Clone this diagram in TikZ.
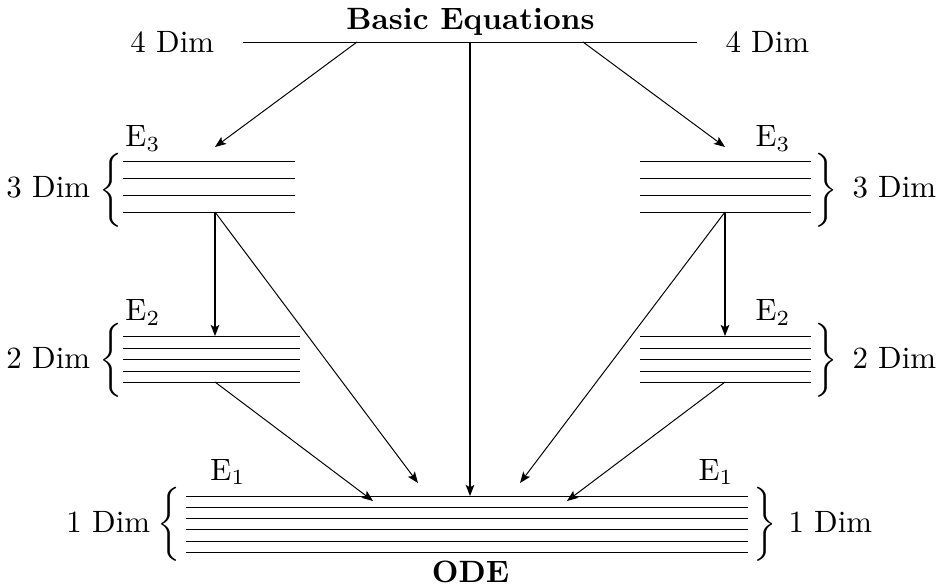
\documentclass[tikz,border=0pt]{standalone}
\usetikzlibrary{arrows.meta}
\begin{document}
\begin{tikzpicture}[x=0.324pt,y=-0.324pt,line width=0.32pt,
  arr/.style={-{Stealth[length=3.6pt,width=2.8pt,inset=0.8pt]}},
  txt/.style={inner sep=0pt,anchor=base west},
  ctxt/.style={inner sep=0pt,anchor=base},
  brc/.style={inner sep=0pt,anchor=center}]
\useasboundingbox (0,0) rectangle (942,584);

% top
\node[ctxt,font=\bfseries] (basic) at (470.5,30) {Basic Equations};
\node[txt] (d4l) at (130,53) {4 Dim};
\node[txt] (d4r) at (725,53) {4 Dim};
\draw (243,42) -- (697,42);
\coordinate (tl) at (357,42);
\coordinate (tc) at (470,42);
\coordinate (tr) at (583,42);

% 3 Dim groups
\foreach \y in {161,178,195,212} {
  \draw (123,\y) -- (295,\y);
  \draw (640,\y) -- (811,\y);
}
\node[txt] (e3l) at (125,147) {E$_3$};
\node[txt] (e3r) at (755,147) {E$_3$};
\node[brc] (b3l) at (111.5,190) {$\bigg\{$};
\node[brc] (b3r) at (826.5,190) {$\bigg\}$};
\node[txt] (d3l) at (6,198) {3 Dim};
\node[txt] (d3r) at (852,198) {3 Dim};
\coordinate (e3lin) at (215,147);
\coordinate (e3rin) at (725,147);
\coordinate (e3lout) at (215,212);
\coordinate (e3rout) at (725,212);

% 2 Dim groups
\foreach \y in {336,348,359,371,382} {
  \draw (123,\y) -- (300,\y);
  \draw (640,\y) -- (811,\y);
}
\node[txt] (e2l) at (125,321) {E$_2$};
\node[txt] (e2r) at (755,321) {E$_2$};
\node[brc] (b2l) at (111.5,360) {$\bigg\{$};
\node[brc] (b2r) at (826.5,360) {$\bigg\}$};
\node[txt] (d2l) at (6,368) {2 Dim};
\node[txt] (d2r) at (852,368) {2 Dim};
\coordinate (e2lin) at (215,336);
\coordinate (e2rin) at (725,336);
\coordinate (e2lout) at (215,382);
\coordinate (e2rout) at (725,382);

% 1 Dim group
\foreach \y in {496,507,518,529,541,552} {
  \draw (186,\y) -- (748,\y);
}
\node[txt] (e1l) at (210,480) {E$_1$};
\node[txt] (e1r) at (698,480) {E$_1$};
\node[brc] (b1l) at (169,524.5) {$\bigg\{$};
\node[brc] (b1r) at (765,524.5) {$\bigg\}$};
\node[txt] (d1l) at (66,532) {1 Dim};
\node[txt] (d1r) at (788,532) {1 Dim};
\node[ctxt,font=\bfseries] (ode) at (470.5,582) {ODE};
\coordinate (e1c) at (470,496);
\coordinate (e1a) at (418,483);
\coordinate (e1b) at (520,483);
\coordinate (e1d) at (373,501);
\coordinate (e1e) at (567,501);

% arrows
\draw[arr] (tl) -- (e3lin);
\draw[arr] (tr) -- (e3rin);
\draw[arr,line width=0.4pt] (tc) -- (e1c);
\draw[arr,line width=0.4pt] (e3lout) -- (e2lin);
\draw[arr,line width=0.4pt] (e3rout) -- (e2rin);
\draw[arr] (e3lout) -- (e1a);
\draw[arr] (e3rout) -- (e1b);
\draw[arr] (e2lout) -- (e1d);
\draw[arr] (e2rout) -- (e1e);
\end{tikzpicture}
\end{document}
